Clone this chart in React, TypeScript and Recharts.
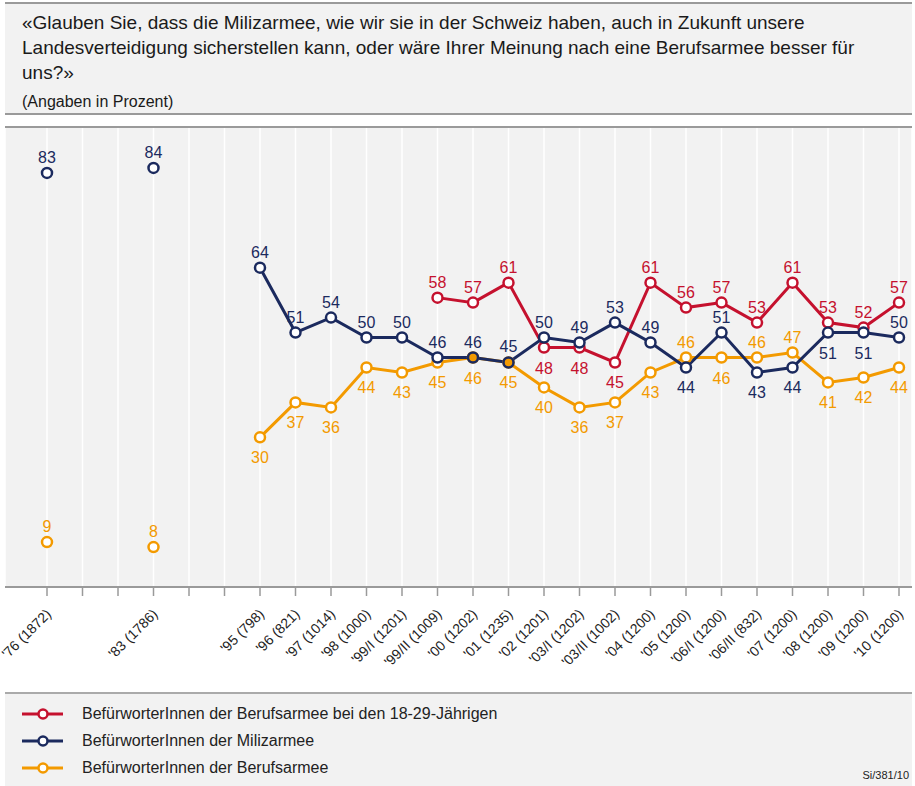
import React from "react"
import { LineChart, Line, XAxis, YAxis, CartesianGrid, LabelList } from "recharts"

const categories = [
  "'76 (1872)", "", "", "'83 (1786)", "", "", "'95 (798)", "'96 (821)", "'97 (1014)", "'98 (1000)",
  "'99/I (1201)", "'99/II (1009)", "'00 (1202)", "'01 (1235)", "'02 (1201)", "'03/I (1202)",
  "'03/II (1002)", "'04 (1200)", "'05 (1200)", "'06/I (1200)", "'06/II (832)", "'07 (1200)",
  "'08 (1200)", "'09 (1200)", "'10 (1200)",
]

const milizarmee = [83, null, null, 84, null, null, 64, 51, 54, 50, 50, 46, 46, 45, 50, 49, 53, 49, 44, 51, 43, 44, 51, 51, 50]
const berufsarmee = [9, null, null, 8, null, null, 30, 37, 36, 44, 43, 45, 46, 45, 40, 36, 37, 43, 46, 46, 46, 47, 41, 42, 44]
const berufsarmeeJunge = [null, null, null, null, null, null, null, null, null, null, null, 58, 57, 61, 48, 48, 45, 61, 56, 57, 53, 61, 53, 52, 57]

// which labels sit below their point (by category index)
const blueBelow = [18, 20, 21, 22, 23]
const orangeAbove = [0, 3, 18, 20, 21]
const redBelow = [14, 15, 16]

const RED = "#c5112e"
const BLUE = "#1b2a5e"
const ORANGE = "#f39a00"
const FONT = "Arial, 'Liberation Sans', sans-serif"

const data = categories.map((cat, i) => ({
  i,
  cat,
  miliz: milizarmee[i],
  beruf: berufsarmee[i],
  jung: berufsarmeeJunge[i],
}))

function makeLabel(color: string, below: (i: number) => boolean) {
  return (props: any) => {
    const { x, y, value, index } = props
    if (value == null) return null
    const dy = below(index) ? 26 : -10
    return (
      <text x={x} y={y + dy} textAnchor="middle" fill={color} fontSize={16} fontFamily={FONT}>
        {value}
      </text>
    )
  }
}

function XTick(props: any) {
  const { x, y, payload } = props
  const label = categories[payload.value]
  if (!label) return null
  const px = x + 5
  const py = y + 19
  return (
    <text
      x={px}
      y={py}
      textAnchor="end"
      fontSize={14}
      fontFamily={FONT}
      fill="#222"
      transform={`rotate(-45, ${px}, ${py})`}
    >
      {label}
    </text>
  )
}

function BlueDot(props: any) {
  const { cx, cy, index, value } = props
  if (value == null || cy == null) return null
  const filled = berufsarmee[index] === milizarmee[index]
  return <circle cx={cx} cy={cy} r={5} stroke={BLUE} strokeWidth={2.5} fill={filled ? ORANGE : "#fff"} />
}

function LegendRow({ color, text }: { color: string; text: string }) {
  return (
    <div style={{ display: "flex", alignItems: "center", height: 27 }}>
      <svg width={60} height={14} style={{ marginLeft: 17 }}>
        <line x1={0} y1={7} x2={41} y2={7} stroke={color} strokeWidth={3} />
        <circle cx={21} cy={7} r={4.5} stroke={color} strokeWidth={2.5} fill="#fff" />
      </svg>
      <span style={{ fontSize: 16, color: "#222" }}>{text}</span>
    </div>
  )
}

export default function App() {
  return (
    <div
      style={{
        position: "absolute",
        left: 0,
        top: 0,
        width: 915,
        height: 786,
        background: "#fff",
        fontFamily: FONT,
        overflow: "hidden",
      }}
    >
      <div
        style={{
          position: "absolute",
          left: 5,
          top: 2,
          width: 907,
          height: 113,
          background: "#f2f2f2",
          borderTop: "2px solid #9a9a9a",
          borderBottom: "2px solid #9a9a9a",
          boxSizing: "border-box",
        }}
      >
        <div style={{ position: "absolute", left: 17, top: 6, width: 880, fontSize: 19, lineHeight: "25px", color: "#1a1a1a" }}>
          «Glauben Sie, dass die Milizarmee, wie wir sie in der Schweiz haben, auch in Zukunft unsere
          Landesverteidigung sicherstellen kann, oder wäre Ihrer Meinung nach eine Berufsarmee besser für uns?»
        </div>
        <div style={{ position: "absolute", left: 17, top: 89, fontSize: 16, color: "#1a1a1a" }}>(Angaben in Prozent)</div>
      </div>
      <div style={{ position: "absolute", left: 5, top: 126, width: 907, height: 2, background: "#9a9a9a" }} />
      <div style={{ position: "absolute", left: 0, top: 128 }}>
        <LineChart width={915} height={565} data={data} margin={{ top: 0, right: 3, bottom: 0, left: 5 }}>
          <CartesianGrid horizontal={false} stroke="#fff" strokeWidth={1.5} fill="#f2f2f2" fillOpacity={1} />
          <XAxis
            dataKey="i"
            interval={0}
            height={106}
            padding={{ left: 42, right: 13 }}
            axisLine={{ stroke: "#9a9a9a", strokeWidth: 2 }}
            tickLine={{ stroke: "#9a9a9a", strokeWidth: 1.5 }}
            tickSize={9}
            tickMargin={0}
            tick={<XTick />}
          />
          <YAxis hide domain={[0, 92]} />
          <Line
            dataKey="beruf"
            stroke={ORANGE}
            strokeWidth={3}
            dot={{ r: 5, stroke: ORANGE, strokeWidth: 2.5, fill: "#fff" }}
            isAnimationActive={false}
          >
            <LabelList dataKey="beruf" content={makeLabel(ORANGE, (i) => !orangeAbove.includes(i))} />
          </Line>
          <Line
            dataKey="jung"
            stroke={RED}
            strokeWidth={3}
            dot={{ r: 5, stroke: RED, strokeWidth: 2.5, fill: "#fff" }}
            isAnimationActive={false}
          >
            <LabelList dataKey="jung" content={makeLabel(RED, (i) => redBelow.includes(i))} />
          </Line>
          <Line dataKey="miliz" stroke={BLUE} strokeWidth={3} dot={<BlueDot />} isAnimationActive={false}>
            <LabelList dataKey="miliz" content={makeLabel(BLUE, (i) => blueBelow.includes(i))} />
          </Line>
        </LineChart>
      </div>
      <div
        style={{
          position: "absolute",
          left: 5,
          top: 692,
          width: 907,
          height: 94,
          background: "#f2f2f2",
          borderTop: "2px solid #aaa",
          boxSizing: "border-box",
          paddingTop: 6,
        }}
      >
        <LegendRow color={RED} text="BefürworterInnen der Berufsarmee bei den 18-29-Jährigen" />
        <LegendRow color={BLUE} text="BefürworterInnen der Milizarmee" />
        <LegendRow color={ORANGE} text="BefürworterInnen der Berufsarmee" />
        <div style={{ position: "absolute", right: 3, bottom: 5, fontSize: 11, color: "#222" }}>Si/381/10</div>
      </div>
    </div>
  )
}
